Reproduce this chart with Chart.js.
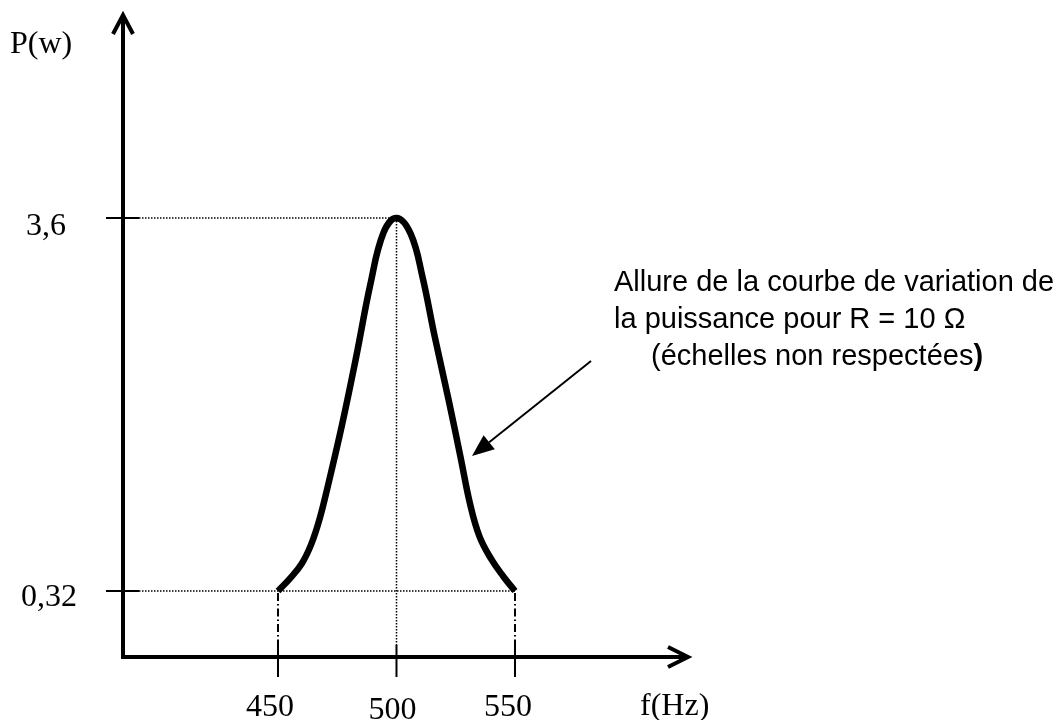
<!DOCTYPE html>
<html>
<head>
<meta charset="utf-8">
<script src="https://cdn.jsdelivr.net/npm/chart.js@4/dist/chart.umd.min.js"></script>
<style>
  html, body { margin: 0; padding: 0; background: #fff; }
  #wrap { width: 1060px; height: 720px; position: relative; }
  canvas { display: block; }
</style>
</head>
<body>
<div id="wrap"><canvas id="c" width="1060" height="720"></canvas></div>
<script>
// ---- data ----
const freqHz = [450, 455, 460, 464, 467.5, 471, 477, 483, 489, 494.5, 500,
                506, 511, 516, 522, 527, 531, 535, 540, 545, 550];
const powerW = [0.32, 0.43, 0.56, 0.73, 0.95, 1.24, 1.78, 2.38, 3.02, 3.47, 3.60,
                3.46, 3.08, 2.57, 2.00, 1.50, 1.09, 0.80, 0.60, 0.45, 0.32];
const xTickValues = [450, 500, 550];
const xTickLabels = ['450', '500', '550'];
const yTickValues = [0.32, 3.6];
const yTickLabels = ['0,32', '3,6'];
const yAxisTitle = 'P(w)';
const xAxisTitle = 'f(Hz)';
const noteLines = ['Allure de la courbe de variation de', 'la puissance pour R = 10 \u03A9', '(\u00E9chelles non respect\u00E9es'];
const noteClose = ')';

const points = freqHz.map((f, i) => ({ x: f, y: powerW[i] }));

const SERIF = '32px "Liberation Serif", "Times New Roman", serif';
const SANS = '29px "Liberation Sans", Arial, Helvetica, sans-serif';

const decor = {
  id: 'decor',
  beforeDraw(chart) {
    const ctx = chart.ctx;
    ctx.save();
    ctx.fillStyle = '#fff';
    ctx.fillRect(0, 0, chart.width, chart.height);
    ctx.restore();
  },
  beforeDatasetsDraw(chart) {
    const { ctx, chartArea: a, scales: { x, y } } = chart;
    const ax = a.left, ay = a.bottom;
    ctx.save();
    ctx.strokeStyle = '#000';
    ctx.fillStyle = '#000';

    // dotted guide lines
    const yTop = y.getPixelForValue(yTickValues[1]);
    const yLow = y.getPixelForValue(yTickValues[0]);
    const xPeak = x.getPixelForValue(xTickValues[1]);
    const xL = x.getPixelForValue(xTickValues[0]);
    const xR = x.getPixelForValue(xTickValues[2]);
    ctx.lineWidth = 1.5;
    ctx.setLineDash([1.5, 1.5]);
    ctx.beginPath();
    ctx.moveTo(ax + 16, yTop); ctx.lineTo(xPeak, yTop);
    ctx.moveTo(ax + 16, yLow); ctx.lineTo(xR, yLow);
    ctx.moveTo(xPeak, yTop); ctx.lineTo(xPeak, ay - 12);
    ctx.stroke();
    // dash-dot verticals
    ctx.setLineDash([8, 3, 1.5, 3]);
    ctx.lineWidth = 2;
    ctx.beginPath();
    ctx.moveTo(xL, yLow + 2); ctx.lineTo(xL, ay - 12);
    ctx.moveTo(xR, yLow + 2); ctx.lineTo(xR, ay - 12);
    ctx.stroke();
    ctx.setLineDash([]);

    // axes
    ctx.lineWidth = 4;
    ctx.lineCap = 'butt';
    ctx.beginPath();
    ctx.moveTo(ax, a.top + 1); ctx.lineTo(ax, ay + 2);
    ctx.moveTo(ax - 2, ay); ctx.lineTo(a.right - 1, ay);
    ctx.stroke();
    // arrow heads (open chevrons)
    ctx.lineJoin = 'miter';
    ctx.beginPath();
    ctx.moveTo(ax - 10, a.top + 19); ctx.lineTo(ax, a.top); ctx.lineTo(ax + 10, a.top + 19);
    ctx.moveTo(a.right - 20, ay - 10); ctx.lineTo(a.right, ay); ctx.lineTo(a.right - 20, ay + 10);
    ctx.stroke();

    // tick marks
    ctx.lineWidth = 2;
    ctx.beginPath();
    yTickValues.forEach(v => {
      const py = y.getPixelForValue(v);
      ctx.moveTo(ax - 17, py); ctx.lineTo(ax + 16, py);
    });
    xTickValues.forEach(v => {
      const px = x.getPixelForValue(v);
      ctx.moveTo(px, ay - 12); ctx.lineTo(px, ay + 20);
    });
    ctx.stroke();

    // tick labels
    ctx.font = SERIF;
    ctx.textAlign = 'left';
    ctx.textBaseline = 'alphabetic';
    ctx.fillText(yTickLabels[1], 26, yTop + 17);
    ctx.fillText(yTickLabels[0], 21, yLow + 15);
    ctx.textAlign = 'center';
    const xOff = [-8, -4, -7];
    const xBase = [716, 719, 716];
    xTickValues.forEach((v, i) => {
      ctx.fillText(xTickLabels[i], x.getPixelForValue(v) + xOff[i], xBase[i]);
    });
    // axis titles
    ctx.textAlign = 'left';
    ctx.fillText(yAxisTitle, 10, 53);
    ctx.fillText(xAxisTitle, 640, 715);
    ctx.restore();
  },
  afterDatasetsDraw(chart) {
    const { ctx } = chart;
    ctx.save();
    ctx.fillStyle = '#000';
    ctx.strokeStyle = '#000';
    // annotation text
    ctx.font = SANS;
    ctx.textBaseline = 'alphabetic';
    ctx.textAlign = 'left';
    ctx.fillText(noteLines[0], 614, 291);
    ctx.fillText(noteLines[1], 614, 328);
    ctx.fillText(noteLines[2], 651, 365);
    const w = ctx.measureText(noteLines[2]).width;
    ctx.font = 'bold ' + SANS;
    ctx.fillText(noteClose, 651 + w, 365);
    // annotation arrow
    const x0 = 591, y0 = 361, x1 = 472, y1 = 456;
    const ang = Math.atan2(y1 - y0, x1 - x0);
    const hl = 22, hw = 9;
    const bx = x1 - hl * Math.cos(ang), by = y1 - hl * Math.sin(ang);
    ctx.lineWidth = 2;
    ctx.beginPath();
    ctx.moveTo(x0, y0); ctx.lineTo(bx, by);
    ctx.stroke();
    ctx.beginPath();
    ctx.moveTo(x1, y1);
    ctx.lineTo(bx + hw * Math.sin(ang), by - hw * Math.cos(ang));
    ctx.lineTo(bx - hw * Math.sin(ang), by + hw * Math.cos(ang));
    ctx.closePath();
    ctx.fill();
    ctx.restore();
  }
};

new Chart(document.getElementById('c'), {
  type: 'line',
  data: {
    datasets: [{
      data: points,
      borderColor: '#000',
      borderWidth: 6.5,
      pointRadius: 0,
      fill: false,
      tension: 0.4,
      borderCapStyle: 'butt',
      borderJoinStyle: 'round',
      clip: false
    }]
  },
  options: {
    responsive: false,
    devicePixelRatio: 1,
    animation: false,
    layout: { padding: { left: 123, top: 15, right: 372, bottom: 63 } },
    plugins: { legend: { display: false }, tooltip: { enabled: false } },
    scales: {
      x: { type: 'linear', min: 384.6, max: 623.0, display: false },
      y: { type: 'linear', min: -0.26, max: 5.385, display: false }
    }
  },
  plugins: [decor]
});
</script>
</body>
</html>
